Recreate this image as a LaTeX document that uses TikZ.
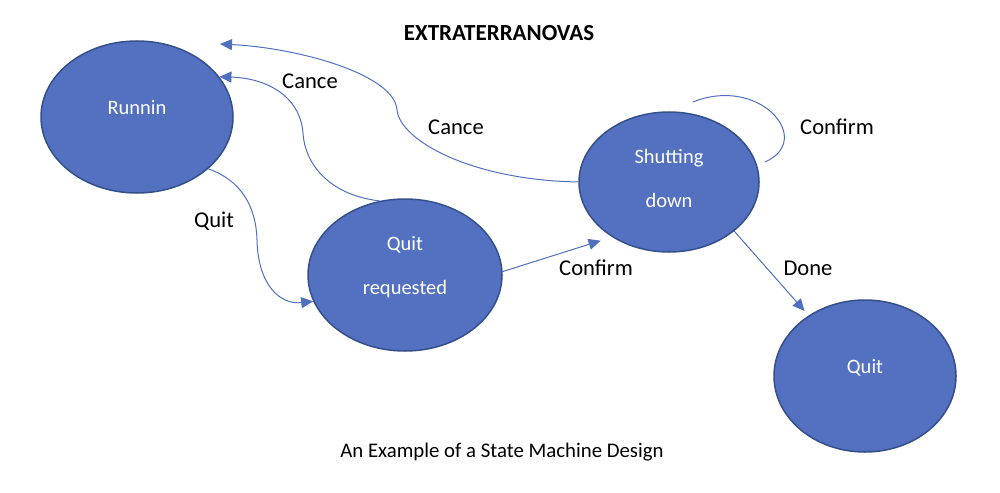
\documentclass[tikz,border=0pt]{standalone}
\usepackage{fontspec}
\setmainfont{Carlito}
\usepackage{tikz}
\usetikzlibrary{shapes.geometric, arrows.meta}

\definecolor{stateblue}{HTML}{5471C1}
\definecolor{lineblue}{HTML}{4F6FBF}
\definecolor{stateedge}{HTML}{34508A}

\begin{document}
\begin{tikzpicture}[x=0.5pt, y=-0.5pt, line width=0.5pt,
    state/.style={ellipse, draw=stateedge, fill=stateblue, line width=0.75pt, inner sep=0pt},
    statetext/.style={text=white, align=center, font=\fontsize{10.25}{22}\selectfont},
    trans/.style={draw=lineblue, -{Triangle[length=6pt, width=5.5pt]}},
    edgelabel/.style={font=\fontsize{11.3}{13.5}\selectfont}]

    \useasboundingbox (0, 0) rectangle (1000, 492);

    % draw title and caption
    \node[font=\bfseries\fontsize{11.5}{14}\selectfont] (title) at (499, 33) {EXTRATERRANOVAS};
    \node[font=\fontsize{10.4}{12.5}\selectfont] (caption) at (502, 452) {An Example of a State Machine Design};

    % draw states
    \node[state, minimum width=96pt, minimum height=76pt] (run) at (137, 117) {};
    \node[state, minimum width=97pt, minimum height=76pt] (qr) at (405, 275) {};
    \node[state, minimum width=90pt, minimum height=70pt] (shut) at (669, 182) {};
    \node[state, minimum width=91pt, minimum height=76pt] (quit) at (865, 376) {};

    % draw state names
    \node[statetext] (run-text) at (137, 108) {Runnin};
    \node[statetext] (qr-text) at (405, 267) {Quit\\requested};
    \node[statetext] (shut-text) at (669, 178.5) {Shutting\\down};
    \node[statetext] (quit-text) at (865, 368) {Quit};

    % draw transitions
    \draw[trans] (run.-36) .. controls (240, 180) and (256, 205) .. (257, 240)
        .. controls (258, 285) and (280, 305) .. (qr.196);
    \draw[trans] (qr.109) .. controls (330, 195) and (305, 165) .. (303, 133)
        .. controls (300, 95) and (265, 78) .. (run.26);
    \coordinate (cancel-end) at (220, 44);
    \draw[trans] (shut.180) .. controls (470, 180) and (400, 140) .. (397, 110)
        .. controls (395, 75) and (300, 48) .. (cancel-end);
    \draw[trans, shorten >=6pt] (qr.2) -- (shut.224);
    \draw[trans, shorten >=3pt] (shut.-37) -- (quit.133);

    % draw self loop (no tip)
    \coordinate (loop-start) at (693, 102);
    \coordinate (loop-end) at (765, 162);
    \draw[draw=lineblue] (loop-start) .. controls (760, 75) and (815, 140) .. (loop-end);

    % draw labels
    \node[edgelabel] (cancel-a) at (310, 81) {Cance};
    \node[edgelabel] (cancel-b) at (456, 127) {Cance};
    \node[edgelabel] (quit-label) at (214, 221) {Quit};
    \node[edgelabel] (confirm-a) at (596, 268) {Confirm};
    \node[edgelabel] (confirm-b) at (837, 127) {Confirm};
    \node[edgelabel] (done-label) at (808, 268) {Done};

\end{tikzpicture}
\end{document}
